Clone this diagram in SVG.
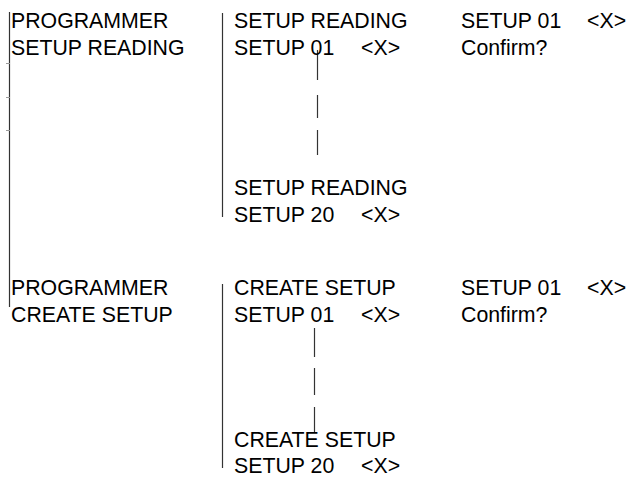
<svg xmlns="http://www.w3.org/2000/svg" width="629" height="477" viewBox="0 0 629 477">
<style>
text{font-family:"Liberation Sans",Arial,sans-serif;font-size:21.3px;fill:#000}
.ln{stroke:#333;stroke-width:1.2;fill:none}
.tk{stroke:#999;stroke-width:1;fill:none}
</style>
<rect width="629" height="477" fill="#fff"/>
<g id="connectors">
<line class="ln" x1="9.5" y1="12" x2="9.5" y2="307"/>
<line class="tk" x1="6" y1="63.5" x2="10" y2="63.5"/>
<line class="tk" x1="6" y1="97.5" x2="10" y2="97.5"/>
<line class="tk" x1="6" y1="130.5" x2="10" y2="130.5"/>
<line class="ln" x1="222.5" y1="13" x2="222.5" y2="217"/>
<line class="ln" x1="317.5" y1="50" x2="317.5" y2="80"/>
<line class="ln" x1="317.5" y1="95" x2="317.5" y2="118"/>
<line class="ln" x1="317.5" y1="130" x2="317.5" y2="155"/>
<line class="ln" x1="222.5" y1="284" x2="222.5" y2="468"/>
<line class="ln" x1="314.5" y1="328" x2="314.5" y2="357"/>
<line class="ln" x1="314.5" y1="368" x2="314.5" y2="395"/>
<line class="ln" x1="314.5" y1="407" x2="314.5" y2="433"/>
</g>
<g id="menu-setup-reading">
<text x="11" y="28">PROGRAMMER</text>
<text x="11" y="54.5">SETUP READING</text>
</g>
<g id="setup-reading-01">
<text x="234" y="28">SETUP READING</text>
<text x="234" y="54.5">SETUP 01</text>
<text x="361" y="54.5">&lt;X&gt;</text>
</g>
<g id="confirm-reading">
<text x="461" y="28">SETUP 01</text>
<text x="587" y="28">&lt;X&gt;</text>
<text x="461" y="54.5">Confirm?</text>
</g>
<g id="setup-reading-20">
<text x="234" y="195">SETUP READING</text>
<text x="234" y="222">SETUP 20</text>
<text x="361" y="222">&lt;X&gt;</text>
</g>
<g id="menu-create-setup">
<text x="11" y="295">PROGRAMMER</text>
<text x="11" y="322">CREATE SETUP</text>
</g>
<g id="create-setup-01">
<text x="234" y="295">CREATE SETUP</text>
<text x="234" y="322">SETUP 01</text>
<text x="361" y="322">&lt;X&gt;</text>
</g>
<g id="confirm-create">
<text x="461" y="295">SETUP 01</text>
<text x="587" y="295">&lt;X&gt;</text>
<text x="461" y="322">Confirm?</text>
</g>
<g id="create-setup-20">
<text x="234" y="447">CREATE SETUP</text>
<text x="234" y="473">SETUP 20</text>
<text x="361" y="473">&lt;X&gt;</text>
</g>
</svg>
